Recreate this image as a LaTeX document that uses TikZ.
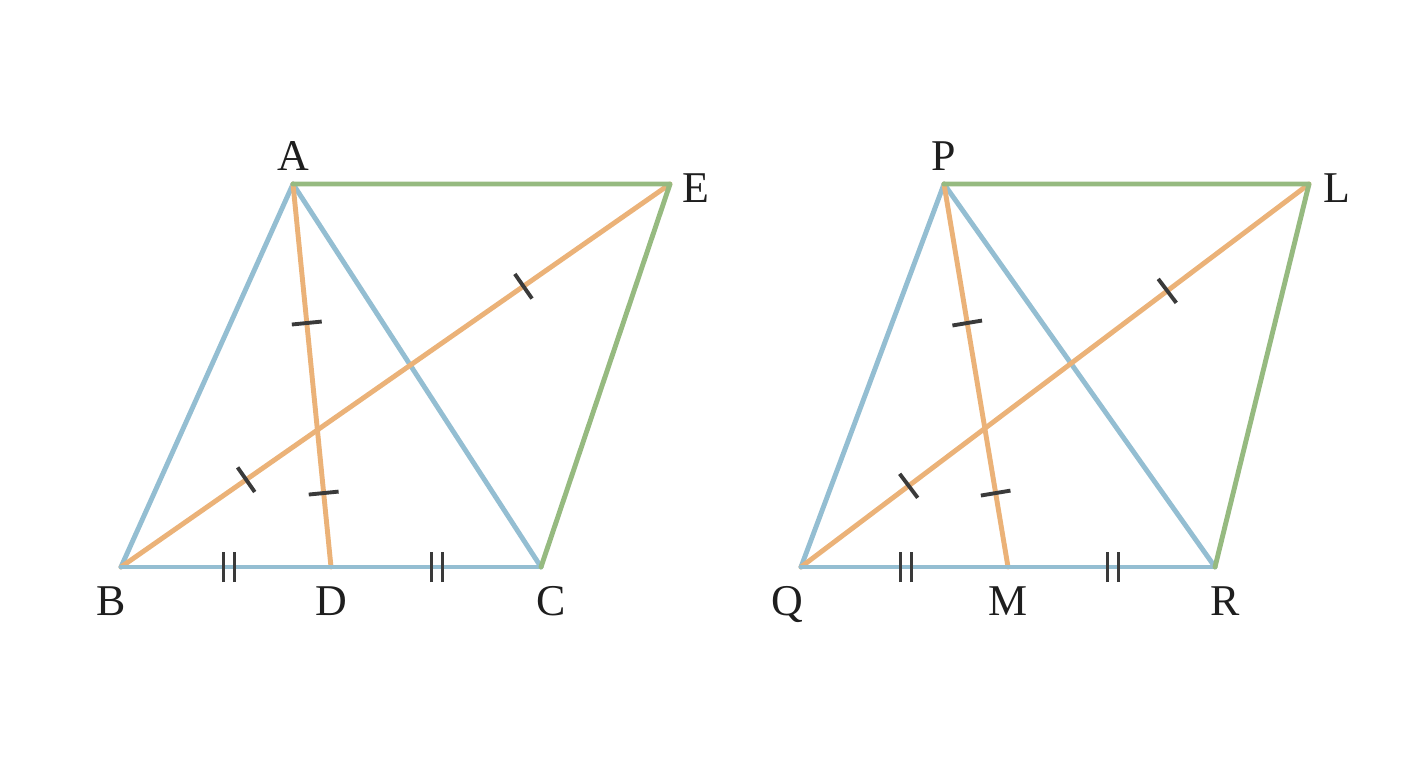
\documentclass[tikz,border=0pt]{standalone}
\usepackage{fontspec}
\setmainfont{Liberation Serif}
\usetikzlibrary{decorations.markings}

\definecolor{sideblue}{RGB}{148,190,210}
\definecolor{medorange}{RGB}{235,178,120}
\definecolor{sidegreen}{RGB}{150,186,128}
\definecolor{tickgray}{RGB}{58,58,58}
\definecolor{lblgray}{RGB}{30,30,30}

\tikzset{
  blueline/.style={draw=sideblue,line width=2.8pt},
  orangeline/.style={draw=medorange,line width=2.8pt},
  greenline/.style={draw=sidegreen,line width=2.8pt},
  tickmark/.style={draw=tickgray,line width=2.2pt,line cap=butt},
  onetick/.style={postaction={decorate,decoration={markings,
    mark=at position #1 with {\draw[tickmark] (0,-0.3cm) -- (0,0.3cm);}}}},
  twotick/.style={postaction={decorate,decoration={markings,
    mark=at position #1 with {\draw[tickmark] (-0.11cm,-0.3cm) -- (-0.11cm,0.3cm)
      (0.11cm,-0.3cm) -- (0.11cm,0.3cm);}}}},
  lbl/.style={inner sep=0pt,text height=0.6cm,text depth=0pt,text=lblgray,
    font=\fontsize{25}{30}\selectfont}
}

\begin{document}
\begin{tikzpicture}
  [x=0.02cm,y=-0.02cm,line cap=round,line join=round]
  \useasboundingbox (0,0) rectangle (1408,768);
  % left figure
  \coordinate (A) at (293,184);
  \coordinate (E) at (670,184);
  \coordinate (B) at (121,567);
  \coordinate (D) at (331,567);
  \coordinate (C) at (541,567);
  \foreach \from/\to in {A/B,A/C}
    \draw[blueline] (\from) -- (\to);
  \draw[orangeline,onetick=0.363,onetick=0.807] (A) -- (D);
  \draw[orangeline,onetick=0.228,onetick=0.733] (B) -- (E);
  \draw[blueline,twotick=0.514] (B) -- (D);
  \draw[blueline,twotick=0.505] (D) -- (C);
  \draw[greenline] (C) -- (E) -- (A);
  \node[lbl] (lA) at (293,155) {A};
  \node[lbl] (lE) at (696,187) {E};
  \node[lbl] (lB) at (111,600) {B};
  \node[lbl] (lD) at (331,600) {D};
  \node[lbl] (lC) at (551,600) {C};
  % right figure
  \coordinate (P) at (944,184);
  \coordinate (L) at (1309,184);
  \coordinate (Q) at (801,567);
  \coordinate (M) at (1008,567);
  \coordinate (R) at (1215,567);
  \foreach \from/\to in {P/Q,P/R}
    \draw[blueline] (\from) -- (\to);
  \draw[orangeline,onetick=0.363,onetick=0.807] (P) -- (M);
  \draw[orangeline,onetick=0.212,onetick=0.721] (Q) -- (L);
  \draw[blueline,twotick=0.507] (Q) -- (M);
  \draw[blueline,twotick=0.507] (M) -- (R);
  \draw[greenline] (R) -- (L) -- (P);
  \node[lbl] (lP) at (944,155) {P};
  \node[lbl] (lL) at (1337,187) {L};
  \node[lbl] (lQ) at (787,600) {Q};
  \node[lbl] (lM) at (1008,600) {M};
  \node[lbl] (lR) at (1225,600) {R};
\end{tikzpicture}
\end{document}
